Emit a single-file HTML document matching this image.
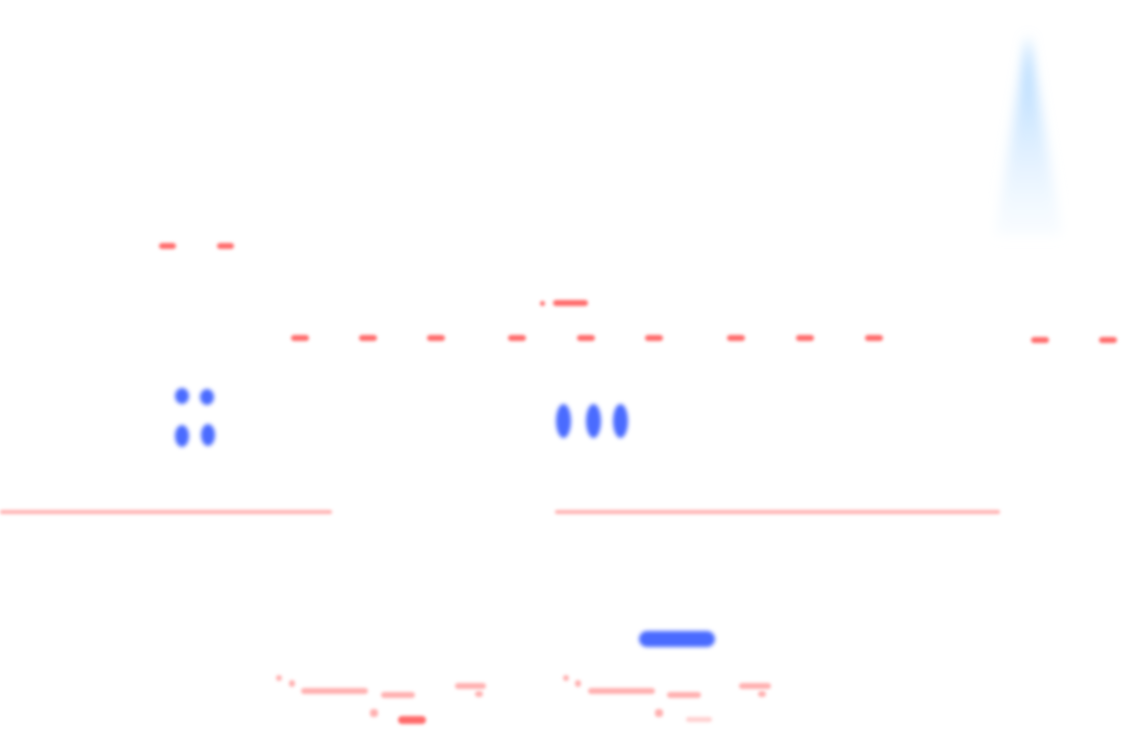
<!DOCTYPE html>
<html><head><meta charset="utf-8"><style>
html,body{margin:0;padding:0;background:#fff;}
#c{position:relative;width:1136px;height:745px;overflow:hidden;font-family:"Liberation Sans",sans-serif;}
.r{position:absolute;background:#ff6b6b;border-radius:4px;filter:blur(1.5px);}
.lr{position:absolute;background:#ffb0b0;border-radius:3px;filter:blur(1.5px);}
.b{position:absolute;background:#4a6bff;border-radius:50%;filter:blur(2px);}
</style></head><body><div id="c">
<svg width="1136" height="745" style="position:absolute;left:0;top:0">
<defs>
<linearGradient id="g" x1="0" y1="0" x2="0" y2="1">
<stop offset="0" stop-color="#9fd0ff"/><stop offset="1" stop-color="#eaf5ff" stop-opacity="0.3"/></linearGradient>
<filter id="f"><feGaussianBlur stdDeviation="6"/></filter>
</defs>
<polygon points="1028,35 995,235 1062,235" fill="url(#g)" filter="url(#f)"/>
</svg>
<div class="r" style="left:159px;top:243px;width:17px;height:6px"></div>
<div class="r" style="left:217px;top:243px;width:17px;height:6px"></div>
<div class="r" style="left:540px;top:301px;width:5px;height:5px"></div>
<div class="r" style="left:553px;top:300px;width:35px;height:6px"></div>
<div class="r" style="left:291px;top:335px;width:18px;height:6px"></div>
<div class="r" style="left:359px;top:335px;width:18px;height:6px"></div>
<div class="r" style="left:427px;top:335px;width:18px;height:6px"></div>
<div class="r" style="left:508px;top:335px;width:18px;height:6px"></div>
<div class="r" style="left:577px;top:335px;width:18px;height:6px"></div>
<div class="r" style="left:645px;top:335px;width:18px;height:6px"></div>
<div class="r" style="left:727px;top:335px;width:18px;height:6px"></div>
<div class="r" style="left:796px;top:335px;width:18px;height:6px"></div>
<div class="r" style="left:865px;top:335px;width:18px;height:6px"></div>
<div class="r" style="left:1031px;top:337px;width:18px;height:6px"></div>
<div class="r" style="left:1099px;top:337px;width:18px;height:6px"></div>
<div class="b" style="left:175px;top:388px;width:14px;height:16px"></div>
<div class="b" style="left:200px;top:389px;width:14px;height:16px"></div>
<div class="b" style="left:175px;top:425px;width:14px;height:22px"></div>
<div class="b" style="left:201px;top:424px;width:14px;height:22px"></div>
<div class="b" style="left:556px;top:404px;width:15px;height:34px"></div>
<div class="b" style="left:586px;top:404px;width:15px;height:34px"></div>
<div class="b" style="left:613px;top:404px;width:15px;height:34px"></div>
<div class="lr" style="left:0;top:510px;width:332px;height:4px"></div>
<div class="lr" style="left:555px;top:510px;width:445px;height:4px"></div>
<div class="b" style="left:639px;top:631px;width:76px;height:16px;border-radius:8px"></div>
<div class="lr" style="left:276px;top:675px;width:6px;height:6px"></div>
<div class="lr" style="left:289px;top:680px;width:6px;height:7px"></div>
<div class="lr" style="left:301px;top:688px;width:67px;height:6px"></div>
<div class="lr" style="left:381px;top:692px;width:34px;height:6px"></div>
<div class="lr" style="left:455px;top:683px;width:31px;height:6px"></div>
<div class="lr" style="left:475px;top:691px;width:8px;height:6px"></div>
<div class="lr" style="left:370px;top:709px;width:8px;height:8px"></div>
<div class="r" style="left:398px;top:716px;width:28px;height:8px"></div>
<div class="lr" style="left:563px;top:675px;width:6px;height:6px"></div>
<div class="lr" style="left:575px;top:680px;width:6px;height:7px"></div>
<div class="lr" style="left:588px;top:688px;width:67px;height:6px"></div>
<div class="lr" style="left:667px;top:692px;width:34px;height:6px"></div>
<div class="lr" style="left:739px;top:683px;width:32px;height:6px"></div>
<div class="lr" style="left:758px;top:691px;width:8px;height:6px"></div>
<div class="lr" style="left:655px;top:709px;width:8px;height:8px"></div>
<div class="lr" style="left:686px;top:717px;width:26px;height:5px;opacity:.6"></div>
</div></body></html>
